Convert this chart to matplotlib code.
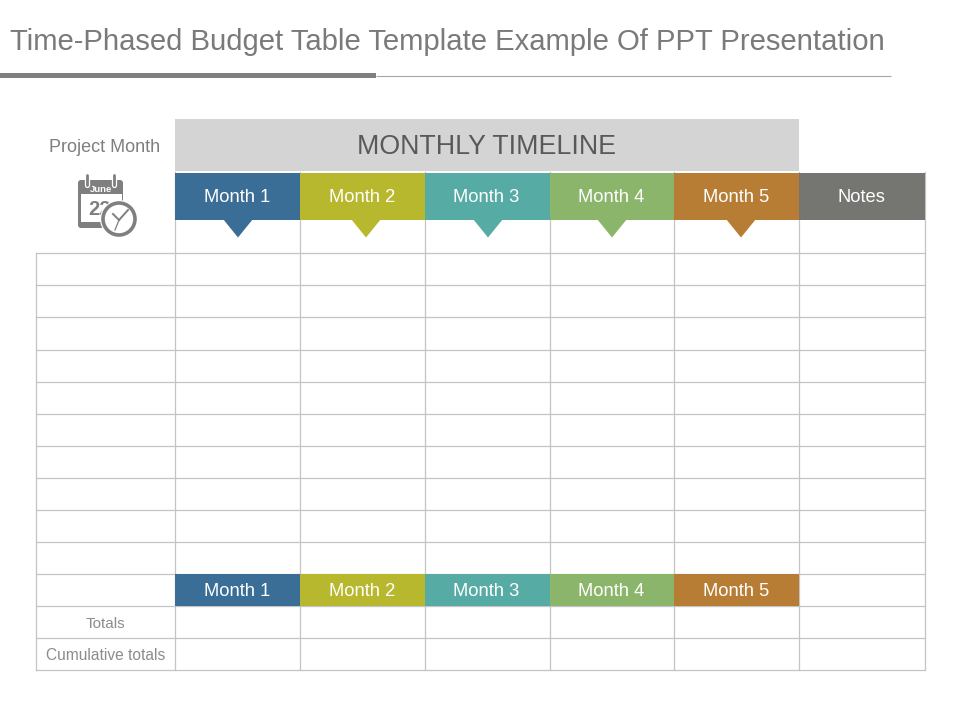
import matplotlib
matplotlib.use('Agg')
import matplotlib.pyplot as plt
import matplotlib.patches as mpatches

title = 'Time-Phased Budget Table Template Example Of PPT Presentation'
banner = 'MONTHLY TIMELINE'
corner_label = 'Project Month'
months = ['Month 1', 'Month 2', 'Month 3', 'Month 4', 'Month 5']
month_colors = ['#3A6E96', '#B8B82E', '#57ABA5', '#8BB56A', '#B87D35']
notes_label = 'Notes'
notes_color = '#757672'
row_labels = ['Totals', 'Cumulative totals']

# layout, in pixels of the 960x720 picture
col_x = [36, 175, 300, 424.5, 549.5, 674, 799, 924.5]
row_y = [253, 285, 317, 349.5, 381.5, 413.5, 445.5, 478, 510, 542, 574, 606, 638, 670]
arrow_x = [238, 366, 488, 612, 741]
grid_color = '#C4C4C4'
text_color = '#7F7F7F'

plt.rcParams['font.family'] = ['Liberation Sans', 'DejaVu Sans']

fig = plt.figure(figsize=(9.6, 7.2), dpi=100)
ax = fig.add_axes([0, 0, 1, 1])
ax.set_xlim(0, 960)
ax.set_ylim(720, 0)
ax.axis('off')

# title and rule
ax.text(10, 42.5, title, fontsize=21.1, color='#7A7A7A', va='center', ha='left')
ax.plot([376, 891], [76, 76], color='#A6A6A6', lw=0.8, solid_capstyle='butt')
ax.add_patch(mpatches.Rectangle((0, 73), 376, 4.5, fc='#7F7F7F', ec='none'))

# table grid
for y in row_y:
    ax.plot([col_x[0], col_x[-1]], [y, y], color=grid_color, lw=0.9, zorder=1)
ax.plot([col_x[0], col_x[0]], [row_y[0], row_y[-1]], color=grid_color, lw=0.9, zorder=1)
for x in col_x[1:]:
    ax.plot([x, x], [172, row_y[-1]], color=grid_color, lw=0.9, zorder=1)

# banner
ax.add_patch(mpatches.Rectangle((col_x[1], 119), col_x[6] - col_x[1], 52, fc='#D4D4D4', ec='none', zorder=2))
ax.text((col_x[1] + col_x[6]) / 2 - 0.5, 147.5, banner, fontsize=19.3, color='#595959', ha='center', va='center', zorder=3)

# month header, pointers and lower month row
for i, (name, color) in enumerate(zip(months, month_colors)):
    left, right = col_x[i + 1], col_x[i + 2]
    ax.add_patch(mpatches.Rectangle((left, 172.5), right - left, 47.5, fc=color, ec='none', zorder=2))
    ax.add_patch(mpatches.Polygon([(arrow_x[i] - 15, 219), (arrow_x[i] + 15, 219), (arrow_x[i], 237.5)],
                                  closed=True, fc=color, ec='none', zorder=2))
    ax.text((left + right) / 2 - 0.5, 198, name, fontsize=13.2, color='white', ha='center', va='center', zorder=3)
    ax.add_patch(mpatches.Rectangle((left, row_y[10]), right - left, row_y[11] - row_y[10], fc=color, ec='none', zorder=2))
    ax.text((left + right) / 2 - 0.5, 592, name, fontsize=13.2, color='white', ha='center', va='center', zorder=3)

ax.add_patch(mpatches.Rectangle((col_x[6], 172.5), col_x[7] - col_x[6], 47.5, fc=notes_color, ec='none', zorder=2))
ax.text((col_x[6] + col_x[7]) / 2 - 0.5, 198, notes_label, fontsize=13.2, color='white', ha='center', va='center', zorder=3)

# left labels
ax.text(105, 147, corner_label, fontsize=13, color=text_color, ha='center', va='center')
ax.text(105, 624, row_labels[0], fontsize=11, color='#8C8C8C', ha='center', va='center')
ax.text(105.5, 656, row_labels[1], fontsize=11.2, color='#8C8C8C', ha='center', va='center')

# calendar icon
icon = '#7F7F7F'
ax.add_patch(mpatches.FancyBboxPatch((78, 180), 45, 48, boxstyle='round,pad=0,rounding_size=3',
                                     fc=icon, ec='none', zorder=2))
ax.add_patch(mpatches.Rectangle((81, 194), 41, 28, fc='white', ec='none', zorder=3))
for x in [87, 114]:
    ax.plot([x, x], [175, 185], color='white', lw=3.8, solid_capstyle='round', zorder=4)
    ax.plot([x, x], [175, 185], color=icon, lw=2.0, solid_capstyle='round', zorder=5)
ax.text(100.5, 189.5, 'June', fontsize=6.8, fontweight='bold', color='white', ha='center', va='center', zorder=6)
ax.text(88, 209.5, '22', fontsize=14.5, fontweight='bold', color=icon, ha='left', va='center', zorder=4)
ax.add_patch(mpatches.Circle((119, 219), 19, fc='white', ec='none', zorder=5))
ax.add_patch(mpatches.Circle((119, 219), 16, fc='white', ec=icon, lw=2.6, zorder=6))
ax.plot([119, 113], [220, 214], color=icon, lw=1.4, zorder=7)
ax.plot([119, 128], [220, 210], color=icon, lw=1.4, zorder=7)
ax.plot([119, 115], [220, 230], color=icon, lw=0.9, zorder=7)

fig.savefig('out.png', dpi=100, facecolor='white')
